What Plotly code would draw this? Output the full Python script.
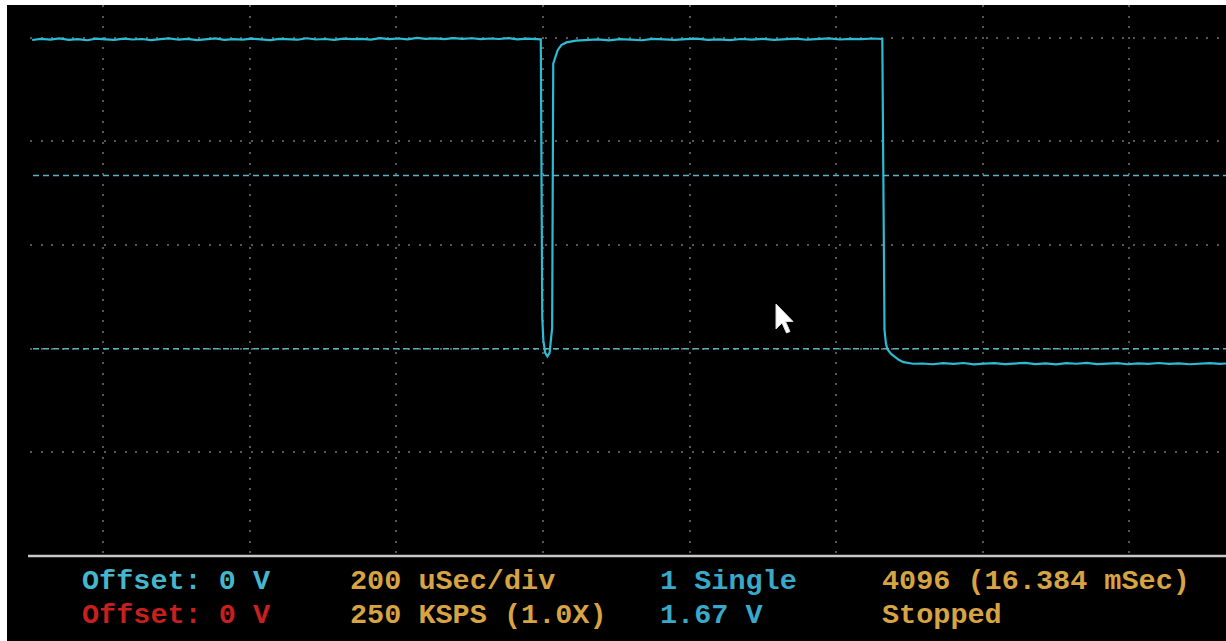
import plotly.graph_objects as go

# ---------------- data (time in microseconds, level in volts) ----------------
high1_t = [-97, -85, -72, -60, -47, -35, -22, -10, 3, 15, 28, 40, 53, 65, 78, 90,
           103, 115, 128, 140, 153, 165, 178, 190, 203, 215, 228, 240, 253, 265,
           278, 290, 303, 315, 328, 340, 353, 365, 378, 390, 403, 415, 428, 440,
           453, 465, 478, 490, 503, 515, 528, 540, 553, 565, 578, 590, 597]
high1_v = [2.978, 2.990, 2.982, 2.993, 2.980, 2.987, 2.976, 2.991, 2.984, 2.979,
           2.992, 2.983, 2.988, 2.977, 2.986, 2.994, 2.981, 2.989, 2.978, 2.985,
           2.993, 2.980, 2.987, 2.982, 2.991, 2.984, 2.978, 2.990, 2.986, 2.981,
           2.995, 2.983, 2.988, 2.979, 2.992, 2.986, 2.990, 2.982, 2.996, 2.987,
           2.993, 2.985, 2.998, 2.989, 2.994, 2.986, 2.997, 2.990, 2.995, 2.987,
           2.993, 2.988, 2.996, 2.985, 2.991, 2.987, 2.985]

dip_t = [599, 600.5, 603, 606, 609, 611, 612.5, 614, 617, 620, 625, 632, 645]
dip_v = [0.30, 0.08, -0.04, -0.075, -0.04, 0.12, 0.20, 2.75, 2.82, 2.88, 2.93, 2.955, 2.972]

high2_t = [660, 675, 690, 705, 720, 735, 750, 765, 780, 795, 810, 825, 840, 855,
           870, 885, 900, 915, 930, 945, 960, 975, 990, 1005, 1020, 1035, 1050, 1063]
high2_v = [2.978, 2.984, 2.975, 2.987, 2.981, 2.976, 2.989, 2.983, 2.979, 2.986,
           2.991, 2.980, 2.985, 2.977, 2.988, 2.982, 2.990, 2.979, 2.984, 2.992,
           2.981, 2.987, 2.994, 2.983, 2.990, 2.986, 2.993, 2.988]

fall_t = [1066, 1068, 1070, 1075, 1080, 1086, 1092, 1098, 1105]
fall_v = [0.18, 0.05, -0.005, -0.05, -0.08, -0.11, -0.13, -0.140, -0.145]

low_t = [1118, 1132, 1146, 1160, 1174, 1188, 1202, 1216, 1230, 1244, 1258, 1272,
         1286, 1300, 1314, 1328, 1342, 1356, 1370, 1384, 1398, 1412, 1426, 1440,
         1454, 1468, 1482, 1496, 1510, 1524, 1532]
low_v = [-0.143, -0.150, -0.140, -0.147, -0.138, -0.152, -0.144, -0.139, -0.149,
         -0.142, -0.136, -0.148, -0.141, -0.151, -0.140, -0.145, -0.137, -0.149,
         -0.143, -0.139, -0.150, -0.142, -0.147, -0.138, -0.146, -0.141, -0.150,
         -0.144, -0.139, -0.147, -0.143]

trigger_level = 1.67
ground_level = 0.0
time_ticks = [0, 200, 400, 600, 800, 1000, 1200, 1400]
volt_ticks = [-2, -1, 0, 1, 2, 3]

status_rows = [
    [("Offset: 0 V", "#45b6cb"), ("200 uSec/div", "#d8a443"),
     ("1 Single", "#3aa9c9"), ("4096 (16.384 mSec)", "#d8a443")],
    [("Offset: 0 V", "#c81f1f"), ("250 KSPS (1.0X)", "#d8a443"),
     ("1.67 V", "#3aa9c9"), ("Stopped", "#d8a443")],
]

# ---------------- figure ----------------
W, H = 1226, 641
L, R, T, B = 30, 0, 5, 85
PW, PH = W - L - R, H - T - B


def px(x):
    return (x - L) / PW


def py(y):
    return (H - B - y) / PH


t_all = high1_t + dip_t + high2_t + fall_t + low_t
v_all = high1_v + dip_v + high2_v + fall_v + low_v

fig = go.Figure()
fig.add_trace(go.Scatter(x=t_all, y=v_all, mode="lines",
                         line=dict(color="#2bbcd4", width=2.2),
                         hoverinfo="skip", showlegend=False))

shapes = []
for lvl in (trigger_level, ground_level):
    shapes.append(dict(type="line", xref="paper", yref="y",
                       x0=px(33), x1=1, y0=lvl, y1=lvl,
                       line=dict(color="#5ab2c2", width=1.5, dash="6px,4px")))
# bottom separator line
shapes.append(dict(type="line", xref="paper", yref="paper", x0=px(28), x1=1,
                   y0=0, y1=0, line=dict(color="#c8c8c8", width=2.5)))
# white border strips
shapes.append(dict(type="rect", xref="paper", yref="paper", x0=px(0), x1=px(W),
                   y0=py(5), y1=py(0), fillcolor="white", line=dict(width=0),
                   layer="above"))
shapes.append(dict(type="rect", xref="paper", yref="paper", x0=px(0), x1=px(7),
                   y0=py(H), y1=py(0), fillcolor="white", line=dict(width=0),
                   layer="above"))
# mouse cursor
cur = [(776, 304), (776, 329), (782, 323), (786.5, 333), (790, 331.5),
       (785.5, 321.5), (793, 321.5)]
path = "M " + " L ".join(f"{px(a):.5f},{py(b):.5f}" for a, b in cur) + " Z"
shapes.append(dict(type="path", xref="paper", yref="paper", path=path,
                   fillcolor="white", line=dict(color="#dddddd", width=1),
                   layer="above"))

annotations = []
col_x = [80, 348, 658, 880]
row_y = [581, 615]
for r, row in enumerate(status_rows):
    for c, (txt, col) in enumerate(row):
        annotations.append(dict(text=txt, xref="paper", yref="paper",
                                x=px(col_x[c]), y=py(row_y[r]),
                                xanchor="left", yanchor="middle", showarrow=False,
                                font=dict(family="Liberation Mono, monospace",
                                          size=28.5, color=col, weight="bold")))

grid_common = dict(showticklabels=False, ticks="", zeroline=False, showline=False,
                   gridcolor="#575757", gridwidth=2, griddash="2px,8.5px",
                   fixedrange=True)
fig.update_layout(
    width=W, height=H, autosize=False,
    margin=dict(l=L, r=R, t=T, b=B, pad=0),
    paper_bgcolor="black", plot_bgcolor="black",
    xaxis=dict(range=[-100, 1532], tickvals=time_ticks, **grid_common),
    yaxis=dict(range=[-2.0, 3.316], tickvals=volt_ticks, **grid_common),
    shapes=shapes, annotations=annotations, showlegend=False,
)

fig.write_html("out.html", post_script="document.body.style.margin='0';",
               config={"displayModeBar": False})
